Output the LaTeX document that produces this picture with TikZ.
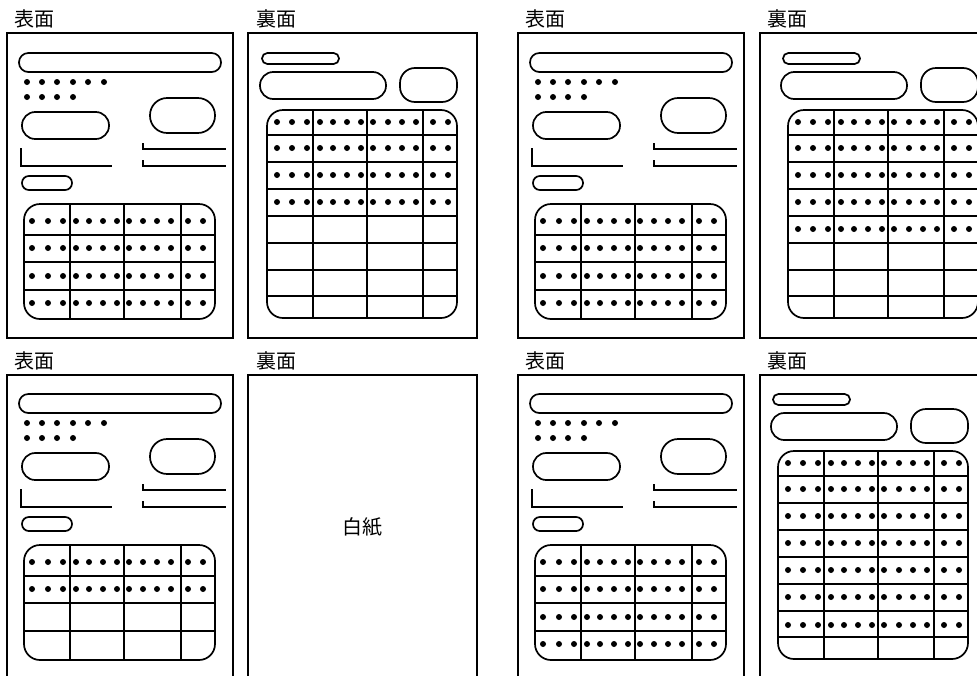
\documentclass[tikz,border=0pt]{standalone}
\usepackage{fontspec}
\newfontfamily\jpfont{Noto Sans CJK JP}
\tikzset{
  pagebox/.style={draw=black, line width=1.4pt},
  shp/.style={draw=black, line width=1.7pt},
  gridln/.style={draw=black, line width=1.5pt},
  lbl/.style={font=\jpfont\fontsize{20}{24}\selectfont, inner sep=0pt},
}
\newcommand\dotr{3pt}
\newcommand\pillbox[4]{%
  \pgfmathsetmacro\pillr{0.49*abs(#4-#2)}%
  \draw[shp, rounded corners=\pillr pt] (#1,#2) rectangle (#3,#4);}
% front side content (dotted row y-values as argument)
\newcommand\frontside[1]{%
  \pillbox{19}{53}{221}{72}
  \foreach \x in {27,42,57,73,88,104} \fill (\x,82) circle[radius=\dotr];
  \foreach \x in {27,42,57,73} \fill (\x,97) circle[radius=\dotr];
  \pillbox{22}{112}{109}{139}
  \pillbox{150}{98}{215}{133}
  \draw[shp] (21,148) -- (21,166) -- (112,166);
  \draw[shp] (143,143) -- (143,149) -- (226,149);
  \draw[shp] (143,160) -- (143,166) -- (226,166);
  \pillbox{22}{176}{72}{190}
  \foreach \y in {235,262,290} \draw[gridln] (24,\y) -- (215,\y);
  \foreach \x in {70,124,181} \draw[gridln] (\x,204) -- (\x,319);
  \draw[shp, rounded corners=16pt] (24,204) rectangle (215,319);
  \foreach \y in {#1}
    \foreach \x in {32,48,63,76,89,103,117,129,143,157,171,188,203}
      \fill (\x,\y) circle[radius=\dotr];
}
% back side content
\newcommand\backside[1]{%
  \pillbox{262}{53}{339}{64}
  \pillbox{260}{72}{386}{99}
  \draw[shp, rounded corners=15pt] (400,68) rectangle (457,102);
  \foreach \y in {135,162,189,216,243,270,296} \draw[gridln] (267,\y) -- (457,\y);
  \foreach \x in {313,367,423} \draw[gridln] (\x,110) -- (\x,318);
  \draw[shp, rounded corners=16pt] (267,110) rectangle (457,318);
  \foreach \y in {#1}
    \foreach \x in {277,292,307,320,333,347,361,373,388,402,416,433,448}
      \fill (\x,\y) circle[radius=\dotr];
}
\begin{document}
\begin{tikzpicture}[x=1pt, y=-1pt]
  \useasboundingbox (0,0) rectangle (977,675);
  \clip (0,0) rectangle (977,675);
  \fill[white] (0,0) rectangle (977,675);
  % labels
  \node[lbl] (f1) at (34.5,19) {表面};
  \node[lbl] (b1) at (276,19) {裏面};
  \node[lbl] (f2) at (545.5,19) {表面};
  \node[lbl] (b2) at (787.5,19) {裏面};
  \node[lbl] (f3) at (34.5,361) {表面};
  \node[lbl] (b3) at (276,361) {裏面};
  \node[lbl] (f4) at (545.5,361) {表面};
  \node[lbl] (b4) at (787.5,361) {裏面};
  % pages
  \draw[pagebox] (7,33) rectangle (233,338);
  \draw[pagebox] (248,33) rectangle (477,338);
  \draw[pagebox] (518,33) rectangle (744,338);
  \draw[pagebox] (760,33) rectangle (989,338);
  \draw[pagebox] (7,375) rectangle (233,680);
  \draw[pagebox] (248,375) rectangle (477,680);
  \draw[pagebox] (518,375) rectangle (744,680);
  \draw[pagebox] (760,375) rectangle (989,680);
  % top-left pair
  \frontside{221,248,276,303}
  \backside{122,148,175,202}
  % top-right pair
  \begin{scope}[shift={(511,0)}]
    \frontside{221,248,276,303}
  \end{scope}
  \begin{scope}[shift={(521,0)}]
    \backside{122,148,175,202,229}
  \end{scope}
  % bottom-left pair
  \begin{scope}[shift={(0,341)}]
    \frontside{221,248}
  \end{scope}
  \node[lbl] (blank) at (362.5,527) {白紙};
  % bottom-right pair
  \begin{scope}[shift={(511,341)}]
    \frontside{221,248,276,303}
    \backside{122,148,175,202,229,256,284}
  \end{scope}
\end{tikzpicture}
\end{document}
